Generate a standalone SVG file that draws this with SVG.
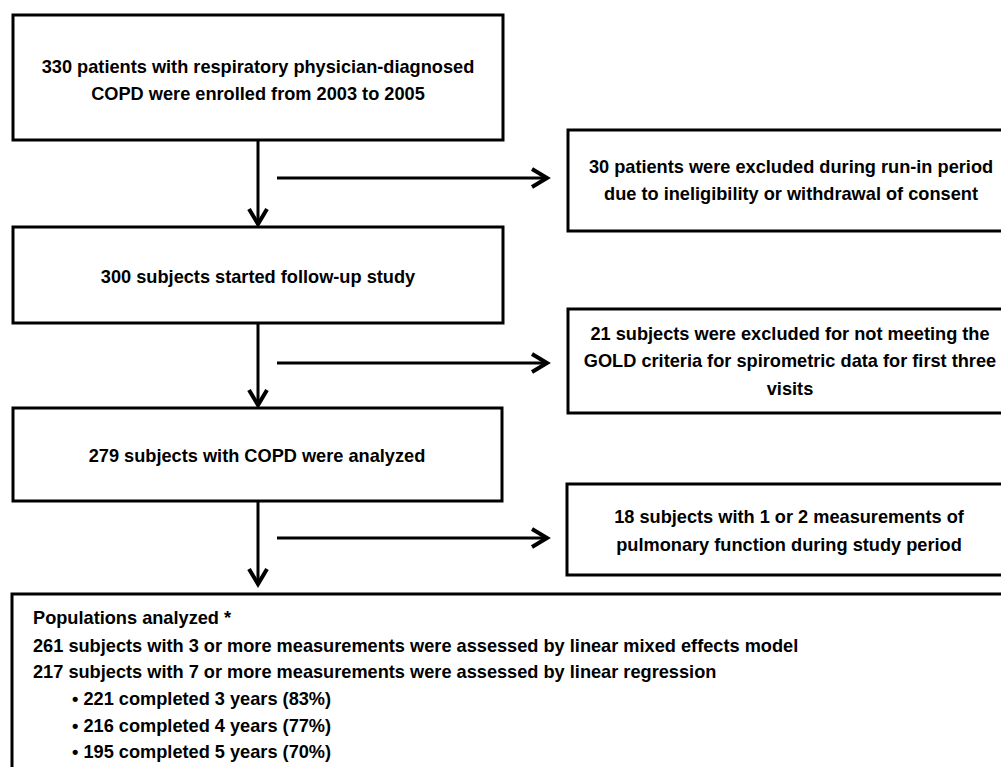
<svg xmlns="http://www.w3.org/2000/svg" width="1001" height="767" viewBox="0 0 1001 767">
<defs>
<style>
.box{fill:#fff;stroke:#000;stroke-width:3}
.t{font-family:"Liberation Sans",Arial,sans-serif;font-weight:bold;font-size:18.2px;fill:#000}
.c{text-anchor:middle}
.ln{stroke:#000;stroke-width:3;fill:none}
</style>
<marker id="arr" markerUnits="userSpaceOnUse" viewBox="-20 -12 24 24" refX="0" refY="0" markerWidth="24" markerHeight="24" orient="auto" overflow="visible">
<path d="M-15,-9 L0,0 L-15,9" fill="none" stroke="#000" stroke-width="4"/>
</marker>
</defs>
<rect width="1001" height="767" fill="#fff"/>
<g id="connectors">
<line class="ln" x1="258" y1="140" x2="258" y2="224" marker-end="url(#arr)"/>
<line class="ln" x1="258" y1="323" x2="258" y2="405" marker-end="url(#arr)"/>
<line class="ln" x1="258" y1="501" x2="258" y2="584" marker-end="url(#arr)"/>
<line class="ln" x1="277" y1="178" x2="547" y2="178" marker-end="url(#arr)"/>
<line class="ln" x1="277" y1="363" x2="547" y2="363" marker-end="url(#arr)"/>
<line class="ln" x1="277" y1="538" x2="547" y2="538" marker-end="url(#arr)"/>
</g>
<g id="n1">
<rect class="box" x="13" y="15" width="490" height="125"/>
<text class="t c" x="258" y="73">330 patients with respiratory physician-diagnosed</text>
<text class="t c" x="258" y="100">COPD were enrolled from 2003 to 2005</text>
</g>
<g id="n2">
<rect class="box" x="13" y="227" width="490" height="96"/>
<text class="t c" x="258" y="283">300 subjects started follow-up study</text>
</g>
<g id="n3">
<rect class="box" x="13" y="408" width="489" height="93"/>
<text class="t c" x="257" y="462">279 subjects with COPD were analyzed</text>
</g>
<g id="e1">
<rect class="box" x="568" y="130" width="450" height="101"/>
<text class="t c" x="791" y="173">30 patients were excluded during run-in period</text>
<text class="t c" x="791" y="200">due to ineligibility or withdrawal of consent</text>
</g>
<g id="e2">
<rect class="box" x="568" y="309" width="450" height="104"/>
<text class="t c" x="790" y="340">21 subjects were excluded for not meeting the</text>
<text class="t c" x="790" y="367">GOLD criteria for spirometric data for first three</text>
<text class="t c" x="790" y="395">visits</text>
</g>
<g id="e3">
<rect class="box" x="567" y="484" width="450" height="91"/>
<text class="t c" x="789" y="523">18 subjects with 1 or 2 measurements of</text>
<text class="t c" x="789" y="551">pulmonary function during study period</text>
</g>
<g id="n4">
<rect class="box" x="12" y="594" width="1010" height="200"/>
<text class="t" x="33" y="624">Populations analyzed *</text>
<text class="t" x="33" y="652">261 subjects with 3 or more measurements were assessed by linear mixed effects model</text>
<text class="t" x="33" y="678">217 subjects with 7 or more measurements were assessed by linear regression</text>
<text class="t" x="72" y="705">• 221 completed 3 years (83%)</text>
<text class="t" x="72" y="732">• 216 completed 4 years (77%)</text>
<text class="t" x="72" y="758">• 195 completed 5 years (70%)</text>
</g>
</svg>
